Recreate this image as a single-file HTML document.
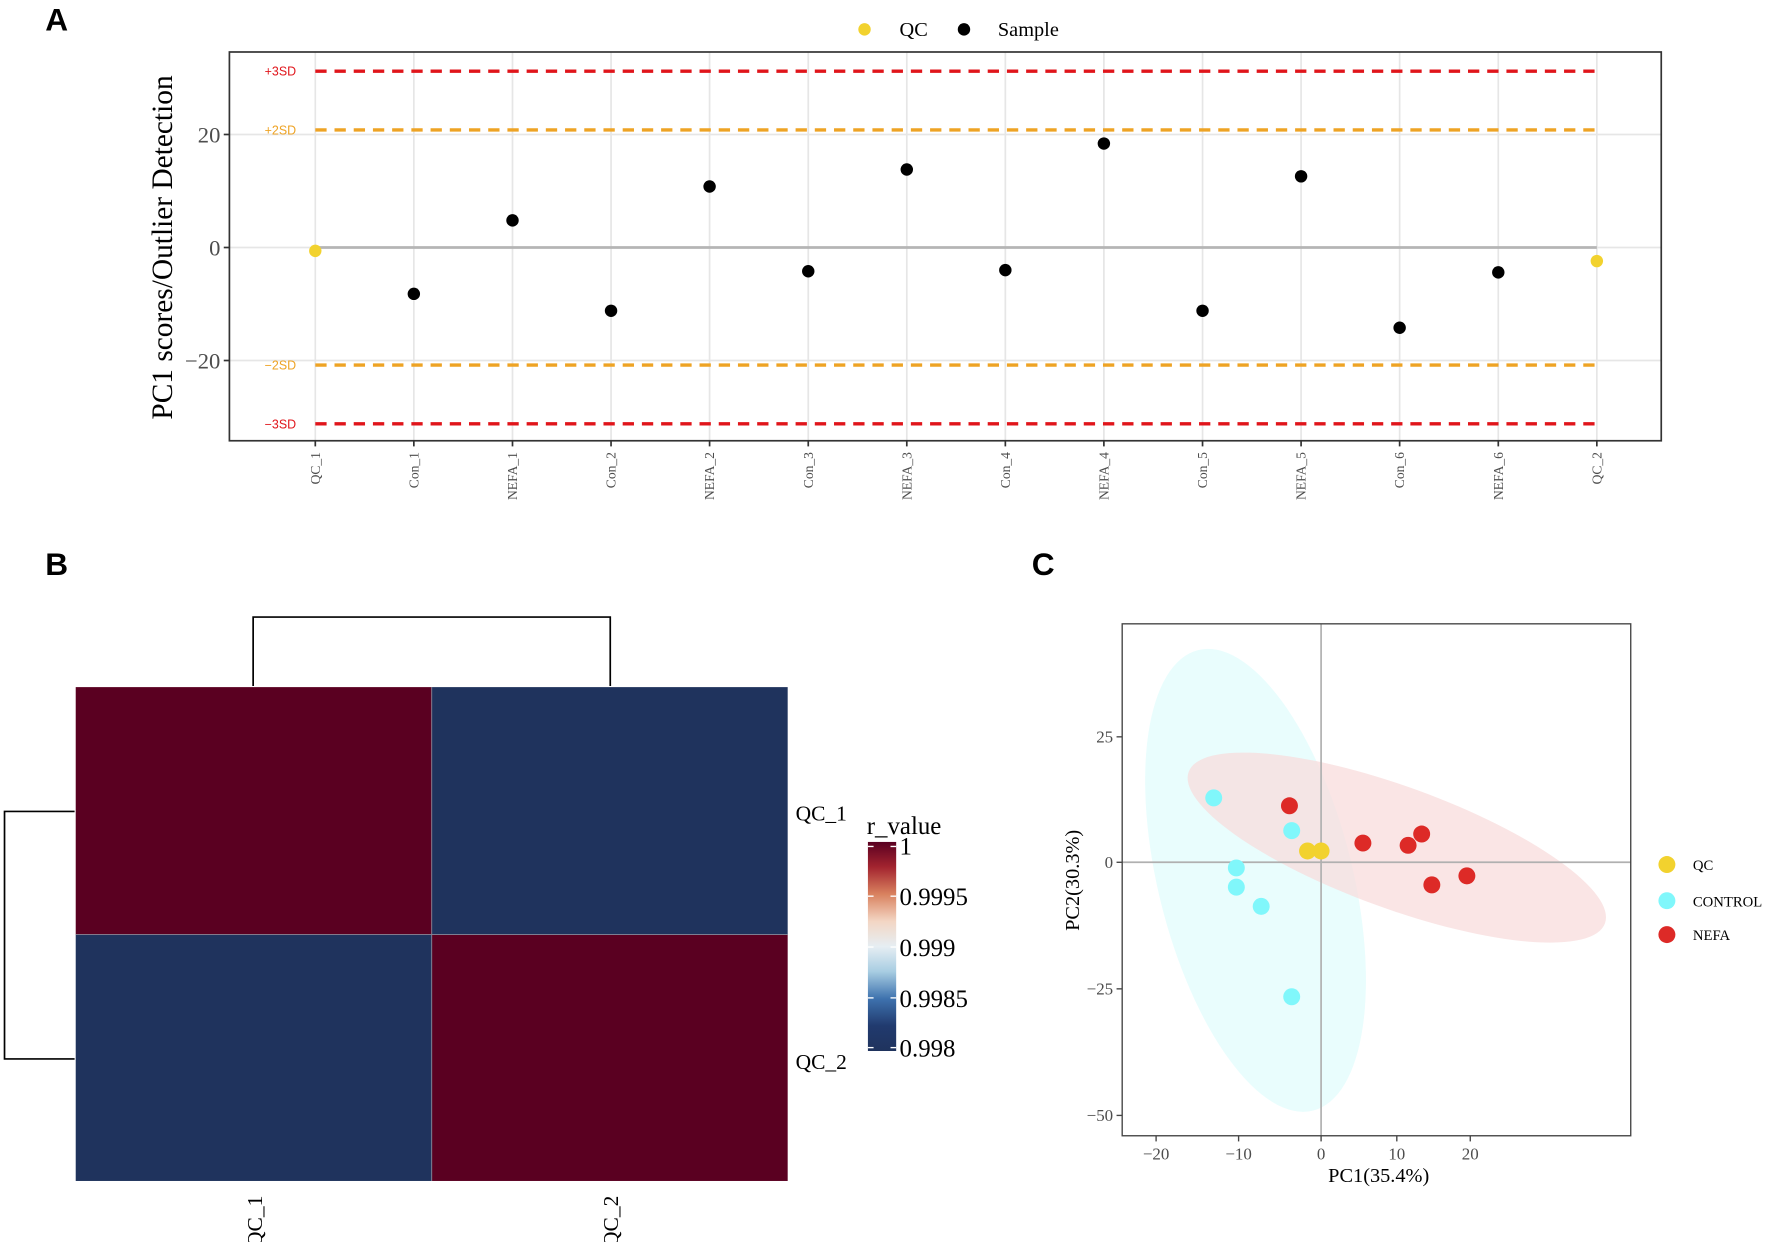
<!DOCTYPE html>
<html><head><meta charset="utf-8"><style>html,body{margin:0;padding:0;background:#fff}svg{display:block}</style></head>
<body>
<svg width="1772" height="1242" viewBox="0 0 1568 1099" xmlns="http://www.w3.org/2000/svg" font-family="'Liberation Serif', serif">
<defs>
<linearGradient id="cb" x1="0" y1="0" x2="0" y2="1">
<stop offset="0" stop-color="#5a0021"/>
<stop offset="0.12" stop-color="#a3242f"/>
<stop offset="0.25" stop-color="#d9825f"/>
<stop offset="0.38" stop-color="#f3d6c4"/>
<stop offset="0.5" stop-color="#e6eef3"/>
<stop offset="0.62" stop-color="#a8cde2"/>
<stop offset="0.75" stop-color="#3e72ae"/>
<stop offset="0.88" stop-color="#213a6e"/>
<stop offset="1" stop-color="#1f335d"/>
</linearGradient>
</defs>
<g font-family="'Liberation Sans', sans-serif" font-weight="bold" font-size="28" fill="#000">
<text x="40" y="27">A</text><text x="40" y="509">B</text><text x="913" y="509">C</text>
</g>

<!-- Panel A -->
<g stroke="#e6e6e6" stroke-width="1.5">
<line x1="203" y1="119" x2="1470" y2="119"/><line x1="203" y1="219" x2="1470" y2="219"/><line x1="203" y1="319" x2="1470" y2="319"/>
<line x1="279" y1="46" x2="279" y2="390"/><line x1="366.2" y1="46" x2="366.2" y2="390"/><line x1="453.5" y1="46" x2="453.5" y2="390"/><line x1="540.7" y1="46" x2="540.7" y2="390"/><line x1="627.9" y1="46" x2="627.9" y2="390"/><line x1="715.2" y1="46" x2="715.2" y2="390"/><line x1="802.4" y1="46" x2="802.4" y2="390"/><line x1="889.6" y1="46" x2="889.6" y2="390"/><line x1="976.8" y1="46" x2="976.8" y2="390"/><line x1="1064.1" y1="46" x2="1064.1" y2="390"/><line x1="1151.3" y1="46" x2="1151.3" y2="390"/><line x1="1238.5" y1="46" x2="1238.5" y2="390"/><line x1="1325.8" y1="46" x2="1325.8" y2="390"/><line x1="1413" y1="46" x2="1413" y2="390"/>
</g>
<line x1="279" y1="219" x2="1413" y2="219" stroke="#b5b5b5" stroke-width="2.5"/>
<g stroke-width="3" stroke-dasharray="10,7">
<line x1="279" y1="63" x2="1413" y2="63" stroke="#e0151b"/>
<line x1="279" y1="115" x2="1413" y2="115" stroke="#eea324"/>
<line x1="279" y1="323" x2="1413" y2="323" stroke="#eea324"/>
<line x1="279" y1="375" x2="1413" y2="375" stroke="#e0151b"/>
</g>
<g font-family="'Liberation Sans', sans-serif" font-size="11" text-anchor="end">
<text x="262" y="67" fill="#e0151b">+3SD</text><text x="262" y="119" fill="#eea324">+2SD</text>
<text x="262" y="327" fill="#eea324">−2SD</text><text x="262" y="379" fill="#e0151b">−3SD</text>
</g>
<rect x="203" y="46" width="1267" height="344" fill="none" stroke="#333" stroke-width="1.5"/>
<g fill="#000">
<circle cx="366.2" cy="260" r="5.5"/><circle cx="453.5" cy="195" r="5.5"/><circle cx="540.7" cy="275" r="5.5"/><circle cx="627.9" cy="165" r="5.5"/><circle cx="715.2" cy="240" r="5.5"/><circle cx="802.4" cy="150" r="5.5"/><circle cx="889.6" cy="239" r="5.5"/><circle cx="976.8" cy="127" r="5.5"/><circle cx="1064.1" cy="275" r="5.5"/><circle cx="1151.3" cy="156" r="5.5"/><circle cx="1238.5" cy="290" r="5.5"/><circle cx="1325.8" cy="241" r="5.5"/>
</g>
<circle cx="279" cy="222" r="5.5" fill="#f2d22e"/><circle cx="1413" cy="231" r="5.5" fill="#f2d22e"/>
<g stroke="#333" stroke-width="1.5">
<line x1="198" y1="119" x2="203" y2="119"/><line x1="198" y1="219" x2="203" y2="219"/><line x1="198" y1="319" x2="203" y2="319"/>
</g>
<g font-size="20" fill="#4d4d4d" text-anchor="end">
<text x="195" y="126">20</text><text x="195" y="226">0</text><text x="195" y="326">−20</text>
</g>
<text transform="translate(152,219) rotate(-90)" font-size="26" text-anchor="middle" fill="#000">PC1 scores/Outlier Detection</text>
<g stroke="#333" stroke-width="1.5">
<line x1="279" y1="390" x2="279" y2="395"/><line x1="366.2" y1="390" x2="366.2" y2="395"/><line x1="453.5" y1="390" x2="453.5" y2="395"/><line x1="540.7" y1="390" x2="540.7" y2="395"/><line x1="627.9" y1="390" x2="627.9" y2="395"/><line x1="715.2" y1="390" x2="715.2" y2="395"/><line x1="802.4" y1="390" x2="802.4" y2="395"/><line x1="889.6" y1="390" x2="889.6" y2="395"/><line x1="976.8" y1="390" x2="976.8" y2="395"/><line x1="1064.1" y1="390" x2="1064.1" y2="395"/><line x1="1151.3" y1="390" x2="1151.3" y2="395"/><line x1="1238.5" y1="390" x2="1238.5" y2="395"/><line x1="1325.8" y1="390" x2="1325.8" y2="395"/><line x1="1413" y1="390" x2="1413" y2="395"/>
</g>
<g font-size="12" fill="#4d4d4d" text-anchor="end">
<text transform="translate(283,400) rotate(-90)">QC_1</text>
<text transform="translate(370.2,400) rotate(-90)">Con_1</text>
<text transform="translate(457.5,400) rotate(-90)">NEFA_1</text>
<text transform="translate(544.7,400) rotate(-90)">Con_2</text>
<text transform="translate(631.9,400) rotate(-90)">NEFA_2</text>
<text transform="translate(719.2,400) rotate(-90)">Con_3</text>
<text transform="translate(806.4,400) rotate(-90)">NEFA_3</text>
<text transform="translate(893.6,400) rotate(-90)">Con_4</text>
<text transform="translate(980.8,400) rotate(-90)">NEFA_4</text>
<text transform="translate(1068.1,400) rotate(-90)">Con_5</text>
<text transform="translate(1155.3,400) rotate(-90)">NEFA_5</text>
<text transform="translate(1242.5,400) rotate(-90)">Con_6</text>
<text transform="translate(1329.8,400) rotate(-90)">NEFA_6</text>
<text transform="translate(1417,400) rotate(-90)">QC_2</text>
</g>
<circle cx="765" cy="26" r="5.5" fill="#f2d22e"/><text x="796" y="32" font-size="18">QC</text>
<circle cx="853" cy="26" r="5.5" fill="#000"/><text x="883" y="32" font-size="18">Sample</text>

<!-- Panel B -->
<g stroke="#000" stroke-width="1.5" fill="none">
<polyline points="224,607 224,546 540,546 540,607"/>
<polyline points="66,718 4,718 4,937 66,937"/>
</g>
<rect x="67" y="608" width="315" height="219" fill="#5a0021"/>
<rect x="382" y="608" width="315" height="219" fill="#1f335d"/>
<rect x="67" y="827" width="315" height="218" fill="#1f335d"/>
<rect x="382" y="827" width="315" height="218" fill="#5a0021"/>
<g stroke="#8a8a9a" stroke-width="0.8"><line x1="382" y1="608" x2="382" y2="1045"/><line x1="67" y1="827" x2="697" y2="827"/></g>
<g font-size="19" fill="#000">
<text x="704" y="726">QC_1</text><text x="704" y="946">QC_2</text>
<text transform="translate(232,1058) rotate(-90)" text-anchor="end">QC_1</text>
<text transform="translate(547,1058) rotate(-90)" text-anchor="end">QC_2</text>
</g>
<text x="767" y="738" font-size="22">r_value</text>
<rect x="768" y="745" width="25" height="185" fill="url(#cb)"/>
<g stroke="#fff" stroke-width="1.2">
<line x1="768" y1="749" x2="773" y2="749"/><line x1="788" y1="749" x2="793" y2="749"/>
<line x1="768" y1="793" x2="773" y2="793"/><line x1="788" y1="793" x2="793" y2="793"/>
<line x1="768" y1="838" x2="773" y2="838"/><line x1="788" y1="838" x2="793" y2="838"/>
<line x1="768" y1="883" x2="773" y2="883"/><line x1="788" y1="883" x2="793" y2="883"/>
<line x1="768" y1="927" x2="773" y2="927"/><line x1="788" y1="927" x2="793" y2="927"/>
</g>
<g font-size="22" fill="#000">
<text x="796" y="756">1</text><text x="796" y="801">0.9995</text><text x="796" y="846">0.999</text><text x="796" y="891">0.9985</text><text x="796" y="935">0.998</text>
</g>

<!-- Panel C -->
<ellipse cx="1111" cy="779" rx="86" ry="210" transform="rotate(-14 1111 779)" fill="#e9fdfd"/>
<ellipse cx="1236" cy="750" rx="196" ry="54" transform="rotate(20 1236 750)" fill="#f8dada" fill-opacity="0.7"/>
<line x1="1169" y1="552" x2="1169" y2="1005" stroke="#b0b0b0" stroke-width="1.5"/>
<line x1="993" y1="763" x2="1443" y2="763" stroke="#b0b0b0" stroke-width="1.5"/>
<rect x="993" y="552" width="450" height="453" fill="none" stroke="#444" stroke-width="1.2"/>
<g fill="#80f7fb">
<circle cx="1074" cy="706" r="7.5"/><circle cx="1143" cy="735" r="7.5"/><circle cx="1094" cy="768" r="7.5"/><circle cx="1094" cy="785" r="7.5"/><circle cx="1116" cy="802" r="7.5"/><circle cx="1143" cy="882" r="7.5"/>
</g>
<g fill="#dd2a27">
<circle cx="1141" cy="713" r="7.5"/><circle cx="1206" cy="746" r="7.5"/><circle cx="1246" cy="748" r="7.5"/><circle cx="1258" cy="738" r="7.5"/><circle cx="1267" cy="783" r="7.5"/><circle cx="1298" cy="775" r="7.5"/>
</g>
<g fill="#f2d22e"><circle cx="1157" cy="753" r="7.5"/><circle cx="1169" cy="753" r="7.5"/></g>
<g stroke="#444" stroke-width="1.2">
<line x1="988" y1="652" x2="993" y2="652"/><line x1="988" y1="763" x2="993" y2="763"/><line x1="988" y1="875" x2="993" y2="875"/><line x1="988" y1="987" x2="993" y2="987"/>
<line x1="1023" y1="1005" x2="1023" y2="1010"/><line x1="1096" y1="1005" x2="1096" y2="1010"/><line x1="1169" y1="1005" x2="1169" y2="1010"/><line x1="1236" y1="1005" x2="1236" y2="1010"/><line x1="1301" y1="1005" x2="1301" y2="1010"/>
</g>
<g font-size="15" fill="#4d4d4d" text-anchor="end">
<text x="985" y="657">25</text><text x="985" y="768">0</text><text x="985" y="880">−25</text><text x="985" y="992">−50</text>
</g>
<g font-size="15" fill="#4d4d4d" text-anchor="middle">
<text x="1023" y="1026">−20</text><text x="1096" y="1026">−10</text><text x="1169" y="1026">0</text><text x="1236" y="1026">10</text><text x="1301" y="1026">20</text>
</g>
<text x="1220" y="1046" font-size="18" text-anchor="middle">PC1(35.4%)</text>
<text transform="translate(955,779) rotate(-90)" font-size="18" text-anchor="middle">PC2(30.3%)</text>
<circle cx="1475" cy="765" r="7.5" fill="#f2d22e"/><text x="1498" y="770" font-size="13">QC</text>
<circle cx="1475" cy="797" r="7.5" fill="#80f7fb"/><text x="1498" y="802" font-size="13">CONTROL</text>
<circle cx="1475" cy="827" r="7.5" fill="#dd2a27"/><text x="1498" y="832" font-size="13">NEFA</text>
</svg>
</body></html>
